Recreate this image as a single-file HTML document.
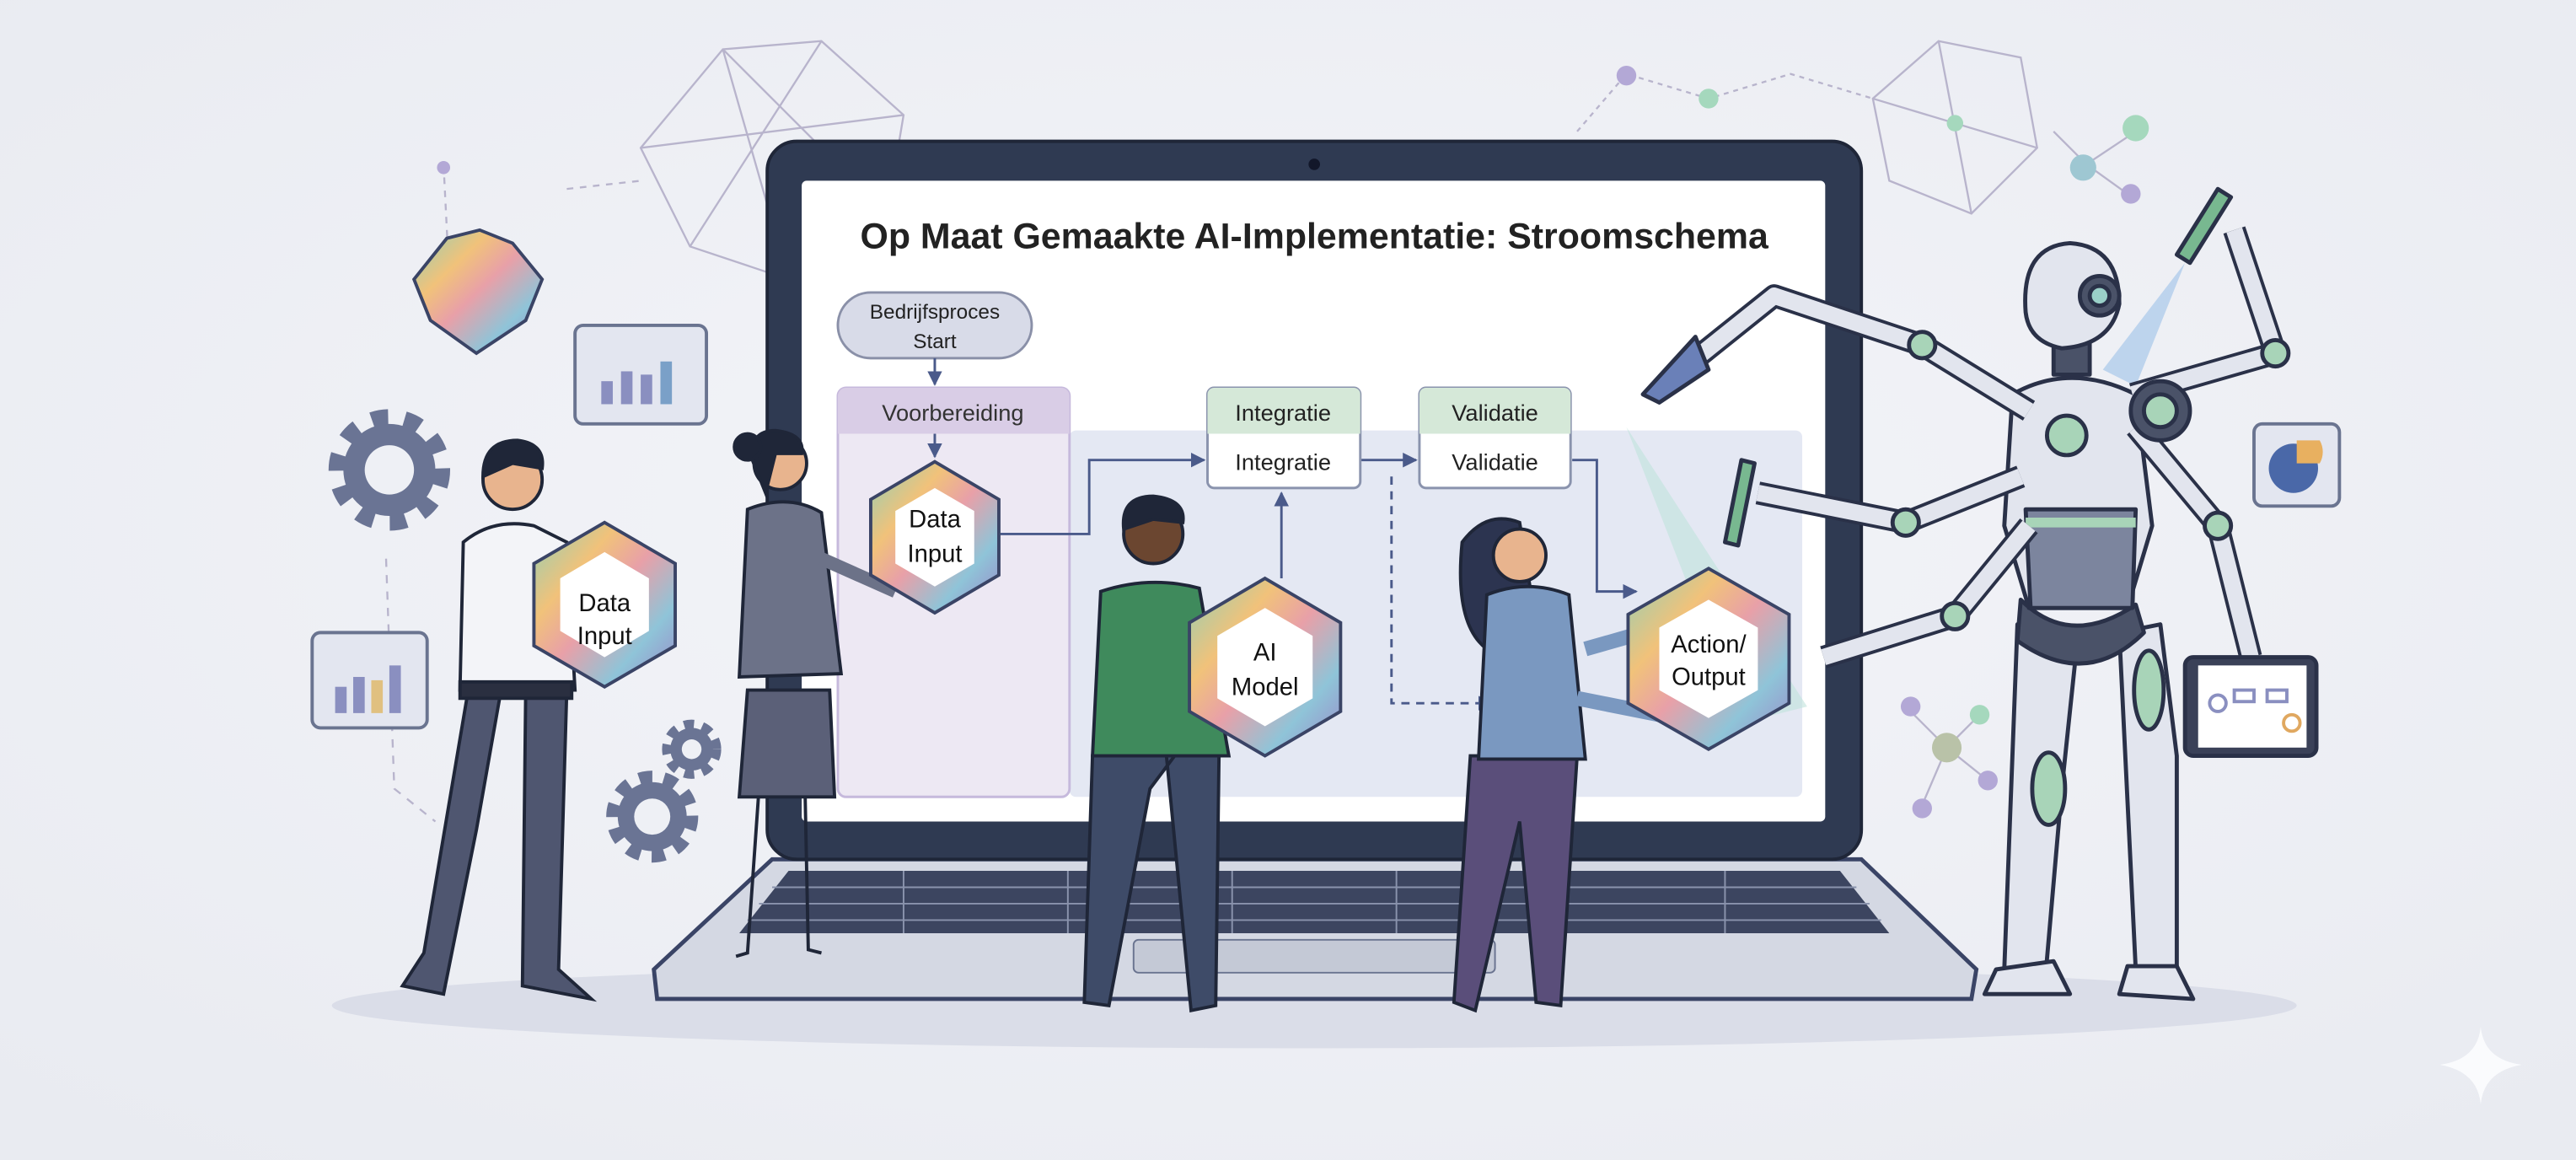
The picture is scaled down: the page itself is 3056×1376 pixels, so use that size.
<!DOCTYPE html>
<html><head><meta charset="utf-8"><style>
html,body{margin:0;padding:0;background:#eef0f5;}
svg{display:block;}
text{font-family:"Liberation Sans",sans-serif;}
</style></head><body>
<svg width="3056" height="1376" viewBox="0 0 1568 706" preserveAspectRatio="none" xmlns="http://www.w3.org/2000/svg">
<defs>
<linearGradient id="hx" x1="0" y1="0" x2="1" y2="1">
<stop offset="0" stop-color="#8fd0b8"/><stop offset="0.3" stop-color="#f1c27a"/><stop offset="0.5" stop-color="#e8a0a8"/><stop offset="0.75" stop-color="#8fc4d8"/><stop offset="1" stop-color="#9a86c8"/></linearGradient>
<radialGradient id="bg" cx="0.5" cy="0.45" r="0.7"><stop offset="0" stop-color="#f4f5f9"/><stop offset="1" stop-color="#e9ebf1"/></radialGradient>
<marker id="ar" viewBox="0 0 10 10" refX="9" refY="5" markerWidth="6" markerHeight="6" orient="auto"><path d="M0 0L10 5L0 10z" fill="#4a5a8a"/></marker>
</defs>
<rect width="1568" height="706" fill="url(#bg)"/>
<g stroke="#b8b4cc" stroke-width="1.2" fill="none">
<path d="M390 90L440 30L500 25L550 70L540 130L480 170L420 150Z M440 30L480 170 M500 25L420 150 M390 90L550 70 M440 30L540 130"/>
<path d="M1140 60L1180 25L1230 35L1240 90L1200 130L1150 110Z M1180 25L1200 130 M1140 60L1240 90"/>
<path d="M960 80L990 45L1040 60L1090 45L1140 60" stroke-dasharray="3 3"/>
<path d="M1250 80L1270 100L1300 80 M1270 100L1295 118"/>
<path d="M270 100L275 200 M345 115L390 110" stroke-dasharray="4 4"/>
<path d="M1160 430L1185 455L1205 435 M1185 455L1170 490 M1185 455L1210 475"/>
<path d="M235 340L240 480L265 500" stroke-dasharray="5 5"/>
</g>
<g fill="#a5d8bd"><circle cx="1040" cy="60" r="6"/><circle cx="1300" cy="78" r="8"/><circle cx="1205" cy="435" r="6"/><circle cx="1190" cy="75" r="5"/></g>
<g fill="#b3a8d6"><circle cx="990" cy="46" r="6"/><circle cx="1297" cy="118" r="6"/><circle cx="270" cy="102" r="4"/><circle cx="1170" cy="492" r="6"/><circle cx="1210" cy="475" r="6"/><circle cx="1163" cy="430" r="6"/></g>
<circle cx="1268" cy="102" r="8" fill="#9ec7d2"/><circle cx="1185" cy="455" r="9" fill="#b9c2a8"/>
<path d="M252 170L272 145L292 140L312 148L330 170L320 195L290 215L262 195Z" fill="url(#hx)" stroke="#3a4466" stroke-width="2"/>
<rect x="350" y="198" width="80" height="60" rx="5" fill="#e3e6f0" stroke="#6a7490" stroke-width="2"/>
<g fill="#8a8fc0"><rect x="366" y="232" width="7" height="14"/><rect x="378" y="226" width="7" height="20"/><rect x="390" y="228" width="7" height="18"/><rect x="402" y="220" width="7" height="26" fill="#7aa0c8"/></g>
<rect x="190" y="385" width="70" height="58" rx="5" fill="#e3e6f0" stroke="#6a7490" stroke-width="2"/>
<g fill="#8a8fc0"><rect x="204" y="418" width="7" height="16"/><rect x="215" y="412" width="7" height="22"/><rect x="226" y="414" width="7" height="20" fill="#e0c080"/><rect x="237" y="405" width="7" height="29"/></g>
<rect x="1372" y="258" width="52" height="50" rx="5" fill="#e3e6f0" stroke="#6a7490" stroke-width="2"/>
<circle cx="1396" cy="285" r="15" fill="#4a68a8"/><path d="M1398 268h14a14 14 0 0 1 0 14h-14z" fill="#e8b060"/>
<!-- gears -->
<g fill="none" stroke="#6a7494">
<circle cx="237" cy="286" r="32" stroke-width="10" stroke-dasharray="10 10"/>
<circle cx="397" cy="497" r="24" stroke-width="8" stroke-dasharray="8 7"/>
<circle cx="421" cy="456" r="15" stroke-width="6" stroke-dasharray="6 5"/>
</g>
<g fill="#6a7494"><circle cx="237" cy="286" r="28"/><circle cx="397" cy="497" r="21"/><circle cx="421" cy="456" r="13"/></g>
<g fill="#eef0f5"><circle cx="237" cy="286" r="15"/><circle cx="397" cy="497" r="11"/><circle cx="421" cy="456" r="6"/></g>
<ellipse cx="800" cy="612" rx="598" ry="26" fill="#dadde8"/>
<path d="M470 523L1133 523L1203 590L1200 608L400 608L398 590Z" fill="#d4d8e3" stroke="#3a4466" stroke-width="2.5"/>
<path d="M480 530L1120 530L1150 568L450 568Z" fill="#3c4560"/>
<g stroke="#8a93ad" stroke-width="1">
<path d="M470 540H1130 M462 550H1138 M455 560H1145 M550 530V568 M650 530V568 M750 530V568 M850 530V568 M950 530V568 M1050 530V568"/></g>
<rect x="690" y="572" width="220" height="20" rx="3" fill="#c4c9d6" stroke="#6a7490"/>
<rect x="467" y="86" width="666" height="437" rx="18" fill="#2f3a52" stroke="#1f2638" stroke-width="2"/>
<circle cx="800" cy="100" r="3.5" fill="#12172a"/>
<rect x="488" y="110" width="623" height="390" rx="3" fill="#ffffff"/>
<text x="800" y="151" font-size="22" font-weight="bold" text-anchor="middle" fill="#222">Op Maat Gemaakte AI-Implementatie: Stroomschema</text>
<rect x="651" y="262" width="446" height="223" rx="4" fill="#e4e8f3"/>
<rect x="510" y="236" width="141" height="249" rx="5" fill="#ede8f3" stroke="#c6b9dc" stroke-width="1.5"/>
<path d="M515 236H646a5 5 0 0 1 5 5V264H510V241a5 5 0 0 1 5-5z" fill="#d9cde6"/>
<text x="580" y="256" font-size="14" text-anchor="middle" fill="#333">Voorbereiding</text>
<rect x="510" y="178" width="118" height="40" rx="20" fill="#d8dbe8" stroke="#8a90a8" stroke-width="1.5"/>
<text x="569" y="194" font-size="12.5" text-anchor="middle" fill="#222">Bedrijfsproces</text>
<text x="569" y="212" font-size="12.5" text-anchor="middle" fill="#222">Start</text>
<g stroke="#4a5a8a" stroke-width="1.5" fill="none" marker-end="url(#ar)">
<path d="M569 218V234"/><path d="M569 264V278"/>
<path d="M609 325H663V280H733"/><path d="M780 352V300"/><path d="M828 280H862"/>
<path d="M957 280H972V360H996"/>
<path d="M847 290V428H908" stroke-dasharray="5 4"/>
</g>
<rect x="735" y="236" width="93" height="61" rx="4" fill="#fff" stroke="#8a93ad" stroke-width="1.5"/>
<path d="M739 236H824a4 4 0 0 1 4 4V264H735V240a4 4 0 0 1 4-4z" fill="#d5e8d8"/>
<text x="781" y="256" font-size="14" text-anchor="middle" fill="#222">Integratie</text>
<text x="781" y="286" font-size="14" text-anchor="middle" fill="#222">Integratie</text>
<rect x="864" y="236" width="92" height="61" rx="4" fill="#fff" stroke="#8a93ad" stroke-width="1.5"/>
<path d="M868 236H952a4 4 0 0 1 4 4V264H864V240a4 4 0 0 1 4-4z" fill="#d5e8d8"/>
<text x="910" y="256" font-size="14" text-anchor="middle" fill="#222">Validatie</text>
<text x="910" y="286" font-size="14" text-anchor="middle" fill="#222">Validatie</text>
<path d="M990 260L1100 430L1060 440Z" fill="#bfe3dc" opacity="0.6"/>
<path d="M1330 160L1280 225L1300 235Z" fill="#a8c8ea" opacity="0.7"/>
<g stroke="#1f2638" stroke-width="2">
<path d="M285 420L258 580L245 600L270 605L290 505L305 420Z M320 420L318 600L360 608L340 590L345 420Z" fill="#4f5670"/>
<path d="M282 330Q300 315 325 320L345 330L350 420H280Z" fill="#f3f4f8"/>
<rect x="280" y="415" width="68" height="10" fill="#2a2f40"/>
<circle cx="312" cy="292" r="18" fill="#e8b48e"/>
<path d="M294 290Q294 268 315 268Q332 270 330 285L312 282Z" fill="#1f2638"/>
<path d="M462 480L455 580L448 582 M490 480L492 578L500 580" fill="none"/>
<path d="M455 420L505 420L508 485H450Z" fill="#5b6078"/>
<path d="M455 310Q480 300 500 312L512 410L450 412Z" fill="#6c7288"/>
<circle cx="475" cy="282" r="16" fill="#e8b48e"/>
<path d="M458 280Q456 262 472 262Q490 264 488 276L472 276L466 300Z" fill="#1f2638"/>
<circle cx="455" cy="272" r="8" fill="#1f2638"/>
<path d="M500 340L545 360" stroke-width="8" stroke="#6c7288"/>
<path d="M665 460L660 610L675 612L700 480L715 460Z M710 460L725 615L740 612L742 460Z" fill="#3e4b68"/>
<path d="M670 360Q700 350 730 358L748 460H665Z" fill="#3f8a5c"/>
<circle cx="702" cy="325" r="18" fill="#6b4630"/>
<path d="M684 322Q682 302 702 302Q722 304 720 318L702 316Z" fill="#1f2638"/>
<path d="M895 460L885 610L898 615L925 500L935 610L950 612L960 460Z" fill="#5a4e7a"/>
<path d="M890 330Q905 310 925 318L935 380L905 395Q885 380 890 330Z" fill="#2c3450"/>
<path d="M905 362Q930 352 955 362L965 462H900Z" fill="#7a98c0"/>
<circle cx="925" cy="338" r="16" fill="#e8b48e"/>
<path d="M965 395L1000 385 M960 425L1010 435" stroke="#7a98c0" stroke-width="9"/>
</g>
<g stroke="#3a4466" stroke-width="2">
<polygon points="368,318 411,343 411,393 368,418 325,393 325,343" fill="url(#hx)"/>
<polygon points="368,336 395,352 395,384 368,400 341,384 341,352" fill="#fff" stroke="none"/>
<polygon points="569,281 608,304 608,350 569,373 530,350 530,304" fill="url(#hx)"/>
<polygon points="569,297 593,311 593,343 569,357 545,343 545,311" fill="#fff" stroke="none"/>
<polygon points="770,352 816,379 816,433 770,460 724,433 724,379" fill="url(#hx)"/>
<polygon points="770,370 799,387 799,425 770,442 741,425 741,387" fill="#fff" stroke="none"/>
<polygon points="1040,346 1089,374 1089,428 1040,456 991,428 991,374" fill="url(#hx)"/>
<polygon points="1040,365 1070,382 1070,420 1040,437 1010,420 1010,382" fill="#fff" stroke="none"/>
</g>
<g font-size="15" text-anchor="middle" fill="#111">
<text x="368" y="372">Data</text><text x="368" y="392">Input</text>
<text x="569" y="321">Data</text><text x="569" y="342">Input</text>
<text x="770" y="402">AI</text><text x="770" y="423">Model</text>
<text x="1040" y="397">Action/</text><text x="1040" y="417">Output</text>
</g>
<g stroke="#2a3148" stroke-width="2.5" stroke-linejoin="round">
<path d="M1228 380L1220 590L1245 595L1255 480L1265 385Z M1290 385L1300 590L1325 590L1325 460L1315 380Z" fill="#e2e5ee"/>
<path d="M1215 590L1208 605L1260 605L1250 585Z M1295 588L1290 605L1335 608L1325 588Z" fill="#e2e5ee"/>
<ellipse cx="1247" cy="480" rx="10" ry="22" fill="#a8d4b8"/><ellipse cx="1308" cy="420" rx="9" ry="24" fill="#a8d4b8"/>
<path d="M1230 365Q1260 395 1300 368L1305 385Q1270 420 1228 390Z" fill="#4a5268"/>
<path d="M1225 240Q1260 220 1300 240L1310 320L1295 370H1235L1220 320Z" fill="#e2e5ee"/>
<path d="M1233 310H1300L1298 370H1236Z" fill="#7c859e"/>
<path d="M1233 318H1300" stroke="#a8d4b8" stroke-width="6"/>
<circle cx="1258" cy="265" r="12" fill="#a8d4b8"/>
<rect x="1250" y="200" width="22" height="28" fill="#4a5268"/>
<path d="M1233 190Q1230 150 1260 148Q1290 150 1290 185Q1285 210 1255 212Q1235 208 1233 190Z" fill="#e2e5ee"/>
<circle cx="1278" cy="180" r="12" fill="#4a5268"/><circle cx="1278" cy="180" r="6" fill="#9ad0c8"/>
<path d="M1298 240L1385 215L1360 140" fill="none" stroke-width="14" stroke="#2a3148"/>
<path d="M1298 240L1385 215L1360 140" fill="none" stroke-width="10" stroke="#e2e5ee"/>
<path d="M1300 260L1350 320L1370 400" fill="none" stroke-width="14" stroke="#2a3148"/>
<path d="M1300 260L1350 320L1370 400" fill="none" stroke-width="10" stroke="#e2e5ee"/>
<path d="M1235 250L1170 210L1080 180L1030 220" fill="none" stroke-width="14" stroke="#2a3148"/>
<path d="M1235 250L1170 210L1080 180L1030 220" fill="none" stroke-width="10" stroke="#e2e5ee"/>
<path d="M1230 290L1160 318L1070 300" fill="none" stroke-width="14" stroke="#2a3148"/>
<path d="M1230 290L1160 318L1070 300" fill="none" stroke-width="10" stroke="#e2e5ee"/>
<path d="M1235 320L1190 375L1110 400" fill="none" stroke-width="14" stroke="#2a3148"/>
<path d="M1235 320L1190 375L1110 400" fill="none" stroke-width="10" stroke="#e2e5ee"/>
<circle cx="1315" cy="250" r="18" fill="#4a5268"/><circle cx="1315" cy="250" r="10" fill="#a8d4b8"/>
<circle cx="1170" cy="210" r="8" fill="#a8d4b8"/><circle cx="1160" cy="318" r="8" fill="#a8d4b8"/><circle cx="1190" cy="375" r="8" fill="#a8d4b8"/><circle cx="1385" cy="215" r="8" fill="#a8d4b8"/><circle cx="1350" cy="320" r="8" fill="#a8d4b8"/>
<path d="M1032 205L1000 240L1010 245L1040 225Z" fill="#6a80b8"/>
<path d="M1060 280L1050 330L1058 332L1068 282Z" fill="#78b890"/>
<path d="M1350 115L1325 155L1333 160L1358 120Z" fill="#78b890"/>
<rect x="1330" y="400" width="80" height="60" rx="5" fill="#3a4158"/>
<rect x="1338" y="405" width="66" height="50" fill="#fff" stroke="none"/>
</g>
<g stroke="#8a8fc0" stroke-width="2" fill="none"><circle cx="1350" cy="428" r="5"/><rect x="1360" y="420" width="12" height="7"/><rect x="1380" y="420" width="12" height="7"/><circle cx="1395" cy="440" r="5" stroke="#e0a860"/></g>
<path d="M1510 625Q1512 645 1535 648Q1512 652 1510 672Q1508 652 1485 648Q1508 645 1510 625Z" fill="#fafbfd"/>
</svg>
</body></html>
